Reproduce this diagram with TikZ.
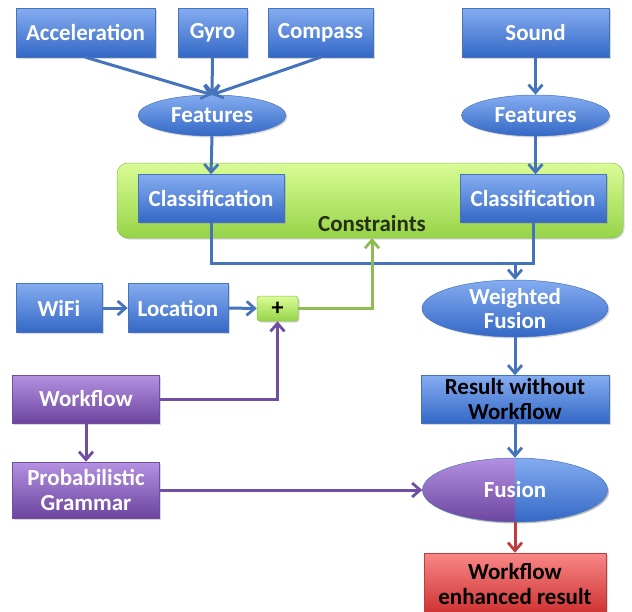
\documentclass[tikz,border=0pt]{standalone}
\usepackage{fontspec}
\setmainfont{Carlito}[BoldFont={Carlito Bold}]
\usetikzlibrary{arrows.meta,shapes.geometric,shadows}
\definecolor{bluetop}{RGB}{132,172,240}
\definecolor{bluebot}{RGB}{52,104,198}
\definecolor{blueline}{RGB}{70,116,188}
\definecolor{purptop}{RGB}{180,145,225}
\definecolor{purpbot}{RGB}{108,68,158}
\definecolor{purpline}{RGB}{112,78,162}
\definecolor{greentop}{RGB}{218,252,150}
\definecolor{greenbot}{RGB}{150,212,72}
\definecolor{greenline}{RGB}{140,188,82}
\definecolor{redtop}{RGB}{248,135,135}
\definecolor{redbot}{RGB}{205,48,48}
\definecolor{redline}{RGB}{190,62,62}
\definecolor{darktext}{RGB}{38,48,20}
\begin{document}
\begin{tikzpicture}[x=1pt,y=-1pt,
  txt/.style={font=\fontsize{23}{26}\selectfont\bfseries, align=center},
  shad/.style={drop shadow={opacity=0.3,shadow xshift=1.5pt,shadow yshift=-1.5pt}},
  bluebox/.style={txt, rectangle, draw=blueline, line width=0.5pt, top color=bluetop, bottom color=bluebot, text=white, inner sep=0pt, shad},
  purpbox/.style={txt, rectangle, draw=purpline, line width=0.5pt, top color=purptop, bottom color=purpbot, text=white, inner sep=0pt, shad},
  redbox/.style={txt, rectangle, draw=redline, line width=0.5pt, top color=redtop, bottom color=redbot, text=black, inner sep=0pt, shad},
  greenbox/.style={rectangle, draw=greenline, line width=0.5pt, top color=greentop, bottom color=greenbot, inner sep=0pt, shad},
  blueell/.style={txt, ellipse, draw=blueline, line width=0.5pt, top color=bluetop, bottom color=bluebot, text=white, inner sep=0pt, shad},
  tip/.style={-{Straight Barb[length=8pt,width=14pt,line width=2.8pt]}},
  bline/.style={draw=blueline, line width=3pt},
  barrow/.style={bline, tip},
  parrow/.style={draw=purpline, line width=3pt, tip},
  garrow/.style={draw=greenline, line width=3pt, tip},
  rarrow/.style={draw=redline, line width=3pt, tip}
]
\useasboundingbox (0,0) rectangle (632,611);
\fill[white] (0,0) rectangle (632,611);

% top row
\node[bluebox, minimum width=139pt, minimum height=49pt] (acc) at (85.5,32.5) {Acceleration};
\node[bluebox, minimum width=69pt, minimum height=49pt] (gyro) at (212.5,32.5) {Gyro};
\node[bluebox, minimum width=105pt, minimum height=49pt] (comp) at (320.5,32.5) {Compass};
\node[bluebox, minimum width=147pt, minimum height=49pt] (sound) at (535.5,32.5) {Sound};

\node[blueell, minimum width=148pt, minimum height=41pt] (feat1) at (212,115.5) {Features};
\node[blueell, minimum width=148pt, minimum height=41pt] (feat2) at (535.5,115.5) {Features};

% constraints
\node[greenbox, minimum width=506pt, minimum height=75pt, rounded corners=11pt] (cons) at (370,200.5) {};
\node[txt, text=darktext] (constxt) at (372,224) {Constraints};
\node[bluebox, minimum width=146pt, minimum height=48pt] (cls1) at (211,198.5) {Classification};
\node[bluebox, minimum width=146pt, minimum height=48pt] (cls2) at (533,198.5) {Classification};
\coordinate (cb) at (372,238);

% middle left
\node[bluebox, minimum width=86pt, minimum height=49pt] (wifi) at (59,308) {WiFi};
\node[bluebox, minimum width=100pt, minimum height=49pt] (loc) at (178,308) {Location};
\node[greenbox, minimum width=41pt, minimum height=25pt, rounded corners=3pt, text=black, font=\fontsize{24}{24}\selectfont\bfseries] (plus) at (277.5,308.5) {+};

% right column
\coordinate (m) at (515,263);
\node[blueell, minimum width=186pt, minimum height=54pt] (wf) at (515,308.5) {Weighted\\[-2pt]Fusion};
\node[bluebox, text=black, minimum width=188pt, minimum height=48pt] (rwo) at (515,399.5) {Result without\\[-1pt]Workflow};

% fusion split ellipse
\fill[black, opacity=0.25] (516.5,491.5) ellipse [x radius=92.5pt, y radius=32pt];
\begin{scope}
\clip (515,490) ellipse [x radius=92.5pt, y radius=32pt];
\shade[top color=purptop, bottom color=purpbot] (420,457) rectangle (515,523);
\shade[top color=bluetop, bottom color=bluebot] (515,457) rectangle (610,523);
\end{scope}
\node[txt, ellipse, draw=blueline, line width=0.5pt, text=white, minimum width=185pt, minimum height=64pt, inner sep=0pt] (fus) at (515,490) {Fusion};

\node[redbox, minimum width=182pt, minimum height=62pt] (enh) at (515,584) {Workflow\\[-1pt]enhanced result};

% purple
\node[purpbox, minimum width=147pt, minimum height=48pt] (wfl) at (86,399) {Workflow};
\node[purpbox, minimum width=147pt, minimum height=56pt] (pg) at (86,490) {Probabilistic\\[-1pt]Grammar};

% connectors
\draw[barrow] (acc.south) -- (feat1.north);
\draw[barrow] (gyro.south) -- (feat1.north);
\draw[barrow] (comp.south) -- (feat1.north);
\draw[barrow] (sound.south) -- (feat2.north);
\draw[barrow] (feat1.south) -- (cls1.north);
\draw[barrow] (feat2.south) -- (feat2.south |- cls2.north);
\draw[bline] (cls1.south) |- (m);
\draw[bline] (cls2.south) |- (m);
\draw[barrow] (m) -- (wf.north);
\draw[barrow] (wf.south) -- (rwo.north);
\draw[barrow] (rwo.south) -- (fus.north);
\draw[rarrow] (fus.south) -- (enh.north);
\draw[barrow] (wifi.east) -- (loc.west);
\draw[barrow] (loc.east) -- (plus.west);
\draw[garrow] (plus.east) -| (cb);
\draw[parrow] (wfl.east) -| (plus.south);
\draw[parrow] (wfl.south) -- (pg.north);
\draw[parrow] (pg.east) -- (fus.west);
\end{tikzpicture}
\end{document}
